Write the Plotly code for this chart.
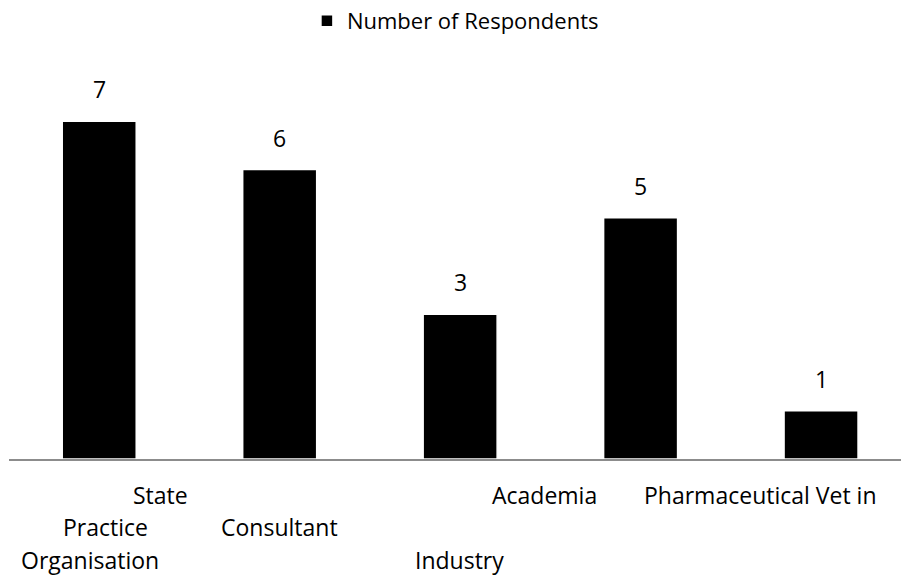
import plotly.graph_objects as go

categories = ["State Practice Organisation", "Consultant", "Industry", "Academia", "Pharmaceutical Vet in"]
respondents = [7, 6, 3, 5, 1]

# Category label pieces: (category index, text, row, horizontal offset in px)
label_lines = [
    (0, "State", 0, 61),
    (0, "Practice", 1, 6),
    (0, "Organisation", 2, -9),
    (1, "Consultant", 1, 0),
    (2, "Industry", 2, -1),
    (2, "Academia", 0, 84),
    (3, "Pharmaceutical Vet in", 0, 120),
]
row_y = [-0.092, -0.175, -0.262]

FONT = "Open Sans"
FSIZE = 23

fig = go.Figure()
fig.add_trace(go.Bar(
    x=categories,
    y=respondents,
    name="Number of Respondents",
    marker=dict(color="black", line=dict(color="white", width=1.5)),
    width=0.41,
))

# value labels above each bar
for c, v in zip(categories, respondents):
    fig.add_annotation(x=c, y=v, xref="x", yref="y", text=str(v), showarrow=False,
                       yshift=32, font=dict(family=FONT, size=FSIZE, color="black"))

for idx, txt, row, dx in label_lines:
    fig.add_annotation(x=categories[idx], y=row_y[row], xref="x", yref="paper", text=txt,
                       showarrow=False, xshift=dx, yanchor="middle",
                       font=dict(family=FONT, size=FSIZE, color="black"))

fig.update_layout(
    width=901, height=580,
    margin=dict(l=9, r=0, t=72, b=121),
    paper_bgcolor="white", plot_bgcolor="white",
    showlegend=True,
    legend=dict(orientation="h", x=0.334, y=1.135, xanchor="left", yanchor="middle",
                font=dict(family=FONT, size=22, color="black")),
    bargap=0.5,
)
fig.update_xaxes(range=[-0.5, 4.443], showticklabels=False, ticks="",
                 showline=True, linecolor="#8c8c8c", linewidth=2, showgrid=False)
fig.update_yaxes(range=[0, 8], visible=False, showgrid=False, zeroline=False)

fig.write_html("out.html")
